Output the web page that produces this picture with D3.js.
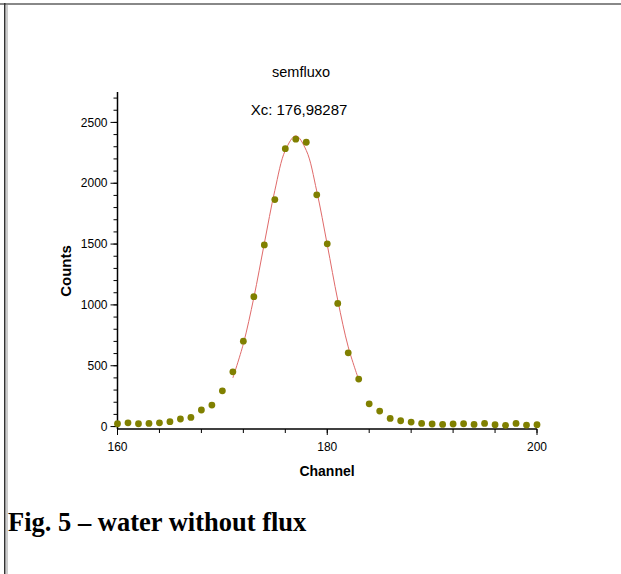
<!DOCTYPE html>
<html>
<head>
<meta charset="utf-8">
<script src="https://cdn.jsdelivr.net/npm/d3@7"></script>
<style>
  html, body { margin: 0; padding: 0; background: #fff; }
  svg { display: block; }
</style>
</head>
<body>
<svg id="chart" width="621" height="574"></svg>
<script>
const channels = d3.range(160, 201);
const counts = [23, 31, 23, 26, 31, 40, 62, 75, 136, 177,
                294, 450, 702, 1068, 1493, 1866, 2284, 2362, 2337, 1905,
                1502, 1012, 606, 390, 187, 127, 67, 48, 37, 26,
                21, 18, 21, 23, 18, 26, 15, 10, 26, 12, 15];

// gaussian fit line, read at each channel where it is drawn
const fitChannels = d3.range(171, 184);
const fitCounts = [400, 680, 1060, 1505, 1940, 2270, 2390, 2270, 1935, 1495, 1040, 655, 385];

const xTicksMajor = [160, 180, 200];
const yTicksMajor = [0, 500, 1000, 1500, 2000, 2500];
const titleText = 'semfluxo';
const xcText = 'Xc: 176,98287';
const captionText = 'Fig. 5 \u2013 water without flux';

const svg = d3.select('#chart');

// page frame (top and left rules)
svg.append('rect').attr('x', 0).attr('y', 3).attr('width', 621).attr('height', 2).attr('fill', '#888');
svg.append('rect').attr('x', 4).attr('y', 3).attr('width', 1.5).attr('height', 571).attr('fill', '#333');
svg.append('rect').attr('x', 6.5).attr('y', 5).attr('width', 1).attr('height', 569).attr('fill', '#999');

const x = d3.scaleLinear().domain([160, 200]).range([117.5, 537]);
const y = d3.scaleLinear().domain([-20, 2750]).range([429, 92]);

const font = 'Arial, "Liberation Sans", sans-serif';

// x axis
const gx = svg.append('g').attr('transform', 'translate(0,429)');
gx.append('line').attr('x1', x(160)).attr('x2', x(200)).attr('stroke', '#000').attr('stroke-width', 1.5);
gx.selectAll('line.minor').data(d3.range(160, 201, 4)).join('line')
  .attr('class', 'minor')
  .attr('x1', d => x(d)).attr('x2', d => x(d)).attr('y1', 0).attr('y2', 4)
  .attr('stroke', '#000').attr('stroke-width', 1);
gx.selectAll('line.major').data(xTicksMajor).join('line')
  .attr('class', 'major')
  .attr('x1', d => x(d)).attr('x2', d => x(d)).attr('y1', 0).attr('y2', 6)
  .attr('stroke', '#000').attr('stroke-width', 1);
gx.selectAll('text').data(xTicksMajor).join('text')
  .attr('x', d => x(d)).attr('y', 22)
  .attr('text-anchor', 'middle').attr('font-family', font).attr('font-size', 12)
  .text(d => d);

// y axis
const gy = svg.append('g').attr('transform', `translate(${x(160)},0)`);
gy.append('line').attr('y1', y(2750)).attr('y2', 429).attr('stroke', '#000').attr('stroke-width', 1.5);
gy.selectAll('line.minor').data(d3.range(0, 2701, 100)).join('line')
  .attr('class', 'minor')
  .attr('y1', d => y(d)).attr('y2', d => y(d)).attr('x1', 0).attr('x2', -4)
  .attr('stroke', '#000').attr('stroke-width', 1);
gy.selectAll('line.major').data(yTicksMajor).join('line')
  .attr('class', 'major')
  .attr('y1', d => y(d)).attr('y2', d => y(d)).attr('x1', 0).attr('x2', -7)
  .attr('stroke', '#000').attr('stroke-width', 1);
gy.selectAll('text').data(yTicksMajor).join('text')
  .attr('x', -10).attr('y', d => y(d)).attr('dy', '0.35em')
  .attr('text-anchor', 'end').attr('font-family', font).attr('font-size', 12)
  .text(d => d);

// axis titles
svg.append('text').attr('x', 327).attr('y', 476)
  .attr('text-anchor', 'middle').attr('font-family', font).attr('font-size', 14).attr('font-weight', 'bold')
  .text('Channel');
svg.append('text').attr('transform', 'translate(71,271) rotate(-90)')
  .attr('text-anchor', 'middle').attr('font-family', font).attr('font-size', 15).attr('font-weight', 'bold')
  .text('Counts');

// title and fit label
svg.append('text').attr('x', 301).attr('y', 77)
  .attr('text-anchor', 'middle').attr('font-family', font).attr('font-size', 14.5)
  .text(titleText);
svg.append('text').attr('x', 299).attr('y', 115)
  .attr('text-anchor', 'middle').attr('font-family', font).attr('font-size', 15)
  .text(xcText);

// fit line
const fitLine = d3.line().x(d => x(d[0])).y(d => y(d[1])).curve(d3.curveCatmullRom);
svg.append('path')
  .datum(fitChannels.map((c, i) => [c, fitCounts[i]]))
  .attr('d', fitLine)
  .attr('fill', 'none').attr('stroke', '#e06a6a').attr('stroke-width', 1);

// data points
svg.selectAll('circle.pt').data(channels.map((c, i) => [c, counts[i]])).join('circle')
  .attr('class', 'pt')
  .attr('cx', d => x(d[0])).attr('cy', d => y(d[1])).attr('r', 3.4)
  .attr('fill', '#808000');

// caption
svg.append('text').attr('x', 8).attr('y', 531)
  .attr('font-family', '"Liberation Serif", "Times New Roman", serif').attr('font-size', 26.5).attr('font-weight', 'bold')
  .text(captionText);
</script>
</body>
</html>
